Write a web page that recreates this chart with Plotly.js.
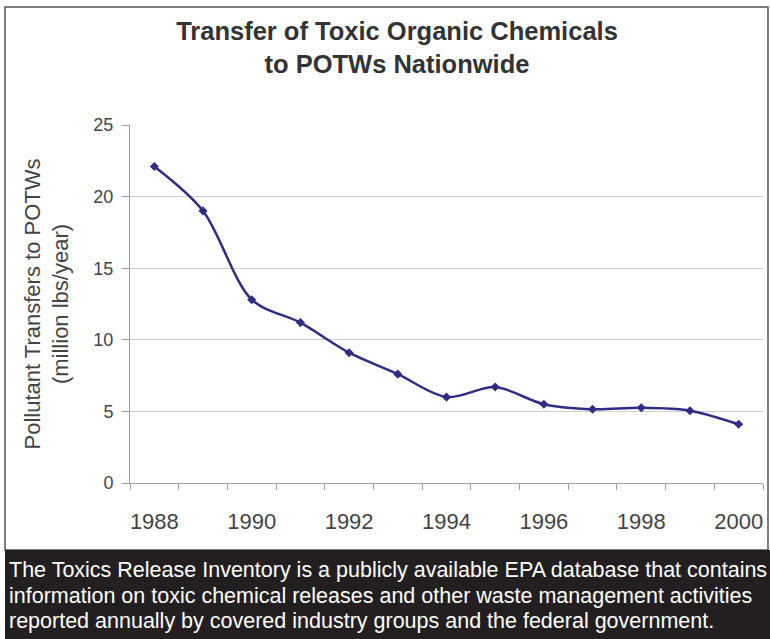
<!DOCTYPE html>
<html>
<head>
<meta charset="utf-8">
<script src="https://cdn.plot.ly/plotly-3.0.1.min.js"></script>
<style>
html,body{margin:0;padding:0;background:#fff;}
#chart{width:770px;height:639px;}
</style>
</head>
<body>
<div id="chart"></div>
<script>
const years = [1988, 1989, 1990, 1991, 1992, 1993, 1994, 1995, 1996, 1997, 1998, 1999, 2000];
const transfers = [22.1, 19.0, 12.8, 11.2, 9.1, 7.6, 6.0, 6.7, 5.5, 5.15, 5.25, 5.05, 4.1];
const yearLabels = [1988, 1990, 1992, 1994, 1996, 1998, 2000];
const yTicks = [0, 5, 10, 15, 20, 25];

const chartTitle = 'Transfer of Toxic Organic Chemicals<br>to POTWs Nationwide';
const yTitle = 'Pollutant Transfers to POTWs<br>(million lbs/year)';
const footerLines = [
  'The Toxics Release Inventory is a publicly available EPA database that contains',
  'information on toxic chemical releases and other waste management activities',
  'reported annually by covered industry groups and the federal government.'
];

const W = 770, H = 639;
const M = {l: 130, r: 7, t: 125, b: 156};
const PW = W - M.l - M.r, PH = H - M.t - M.b;
const fx = p => (p - M.l) / PW;
const fy = p => (H - M.b - p) / PH;

const font = '"Liberation Sans", Arial, sans-serif';

const trace = {
  x: years,
  y: transfers,
  type: 'scatter',
  mode: 'lines+markers',
  line: {color: '#2E2C85', width: 2.5, shape: 'spline', smoothing: 0.9},
  marker: {symbol: 'diamond', size: 7, color: '#2E2C85'},
  hoverinfo: 'x+y'
};

const footerAnn = footerLines.map((t, i) => ({
  text: t, xref: 'paper', yref: 'paper', x: fx(7), y: fy(570 + i * 25.5),
  xanchor: 'left', yanchor: 'middle', align: 'left', showarrow: false,
  font: {family: font, size: 21.5, color: '#ffffff'}
}));

const layout = {
  width: W, height: H,
  margin: M,
  paper_bgcolor: '#ffffff',
  plot_bgcolor: '#ffffff',
  showlegend: false,
  font: {family: font, color: '#444'},
  title: {
    text: chartTitle,
    font: {family: font, size: 25.5, color: '#333', weight: 'bold'},
    xref: 'container', x: 397 / W, xanchor: 'center',
    yref: 'container', y: 1 - 40 / H, yanchor: 'middle'
  },
  xaxis: {
    type: 'linear',
    range: [years[0] - 0.5, years[years.length - 1] + 0.5],
    tickmode: 'array',
    tickvals: yearLabels,
    ticktext: yearLabels.map(String),
    ticks: '',
    ticklabelstandoff: 19,
    tickfont: {family: font, size: 22, color: '#444'},
    showgrid: false,
    zeroline: false,
    showline: true,
    linecolor: '#a0a0a0',
    linewidth: 1,
    minor: {tick0: years[0] - 0.5, dtick: 1, ticks: 'outside', ticklen: 6, tickcolor: '#a0a0a0', showgrid: false}
  },
  yaxis: {
    range: [0, 25],
    tickmode: 'array',
    tickvals: yTicks,
    ticks: 'outside',
    ticklen: 7,
    tickcolor: '#a0a0a0',
    ticklabelstandoff: 5,
    tickfont: {family: font, size: 18, color: '#444'},
    showgrid: true,
    gridcolor: '#cfcfcf',
    gridwidth: 1.2,
    zeroline: false,
    showline: true,
    linecolor: '#a0a0a0',
    linewidth: 1,
    title: {text: yTitle, font: {family: font, size: 22, color: '#444'}, standoff: 18}
  },
  shapes: [
    {type: 'rect', xref: 'paper', yref: 'paper', x0: fx(5), x1: fx(768), y0: fy(550), y1: fy(7),
     line: {color: '#555', width: 1.5}, fillcolor: 'rgba(0,0,0,0)', layer: 'below'},
    {type: 'rect', xref: 'paper', yref: 'paper', x0: fx(5), x1: fx(772), y0: fy(641), y1: fy(550),
     line: {width: 0}, fillcolor: '#231f20', layer: 'above'}
  ],
  annotations: footerAnn
};

Plotly.newPlot('chart', [trace], layout, {displayModeBar: false, staticPlot: true});
</script>
</body>
</html>
